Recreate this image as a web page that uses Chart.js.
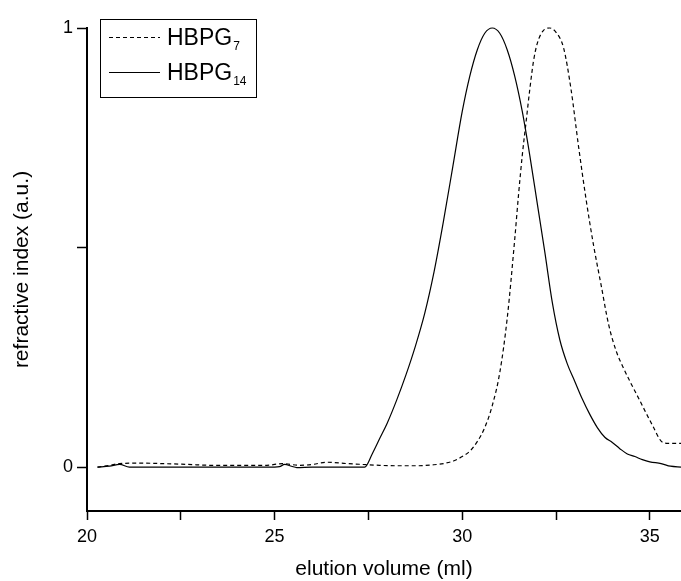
<!DOCTYPE html>
<html>
<head>
<meta charset="utf-8">
<script src="https://cdn.jsdelivr.net/npm/chart.js@4/dist/chart.umd.min.js"></script>
<style>
  html, body { margin: 0; padding: 0; background: #fff; }
  #wrap { width: 681px; height: 581px; }
</style>
</head>
<body>
<div id="wrap"><canvas id="c" width="681" height="581"></canvas></div>
<script>
// ---- data ----
const seriesNames = ['HBPG', 'HBPG'];
const seriesSubscripts = ['7', '14'];

// HBPG7 (dashed)
const hbpg7X = [20.28, 20.6, 20.87, 21.4, 22.0, 22.7, 23.35, 24.1, 24.79, 25.21, 25.67, 26.01, 26.39, 26.92, 27.35, 27.8, 28.33, 28.8, 29.2, 29.5, 29.8, 30.0, 30.2, 30.4, 30.6, 30.8, 31.0, 31.2, 31.4, 31.5, 31.6, 31.7, 31.8, 31.9, 32.0, 32.15, 32.33, 32.5, 32.7, 32.9, 33.1, 33.3, 33.5, 33.7, 33.9, 34.1, 34.3, 34.5, 34.7, 34.9, 35.1, 35.25, 35.35, 35.5, 35.83];
const hbpg7Y = [0.0, 0.004, 0.008, 0.009, 0.008, 0.006, 0.004, 0.004, 0.004, 0.008, 0.004, 0.006, 0.011, 0.008, 0.006, 0.004, 0.003, 0.003, 0.005, 0.008, 0.015, 0.024, 0.036, 0.058, 0.09, 0.14, 0.215, 0.34, 0.52, 0.62, 0.71, 0.785, 0.86, 0.925, 0.965, 0.993, 1.0, 0.99, 0.955, 0.86, 0.73, 0.61, 0.505, 0.415, 0.325, 0.265, 0.225, 0.19, 0.157, 0.123, 0.09, 0.065, 0.056, 0.054, 0.054];

// HBPG14 (solid)
const hbpg14X = [20.28, 20.6, 20.87, 21.13, 22.0, 23.0, 24.0, 25.0, 25.13, 25.27, 25.45, 25.59, 26.0, 26.47, 27.0, 27.4, 27.6, 27.8, 28.0, 28.25, 28.5, 28.75, 29.0, 29.25, 29.5, 29.75, 30.0, 30.2, 30.4, 30.6, 30.8, 31.0, 31.2, 31.4, 31.6, 31.8, 32.0, 32.2, 32.4, 32.6, 32.8, 33.0, 33.2, 33.4, 33.6, 33.8, 34.0, 34.2, 34.4, 34.6, 34.8, 35.0, 35.3, 35.55, 35.83];
const hbpg14Y = [0.0, 0.002, 0.006, 0.0, 0.0, 0.0, 0.0, 0.0, 0.001, 0.006, 0.002, -0.001, 0.0, 0.0, 0.0, 0.0, 0.03, 0.065, 0.1, 0.152, 0.21, 0.275, 0.35, 0.445, 0.56, 0.685, 0.81, 0.89, 0.95, 0.988, 1.0, 0.988, 0.95, 0.89, 0.81, 0.71, 0.6, 0.49, 0.375, 0.29, 0.235, 0.195, 0.155, 0.12, 0.09, 0.068, 0.056, 0.042, 0.03, 0.024, 0.017, 0.012, 0.008, 0.002, 0.0];

const xTickValues = [20, 22.5, 25, 27.5, 30, 32.5, 35];
const xTickLabels = ['20', '', '25', '', '30', '', '35'];
const yTickValues = [0, 0.5, 1];
const yTickLabels = ['0', '', '1'];

const xMin = 20, xMax = 35.83, yMin = -0.1, yMax = 1;

// ---- chart ----
const pts = (xs, ys) => xs.map((x, i) => ({ x: x, y: ys[i] }));

const legendPlugin = {
  id: 'subLegend',
  afterDraw(chart) {
    const ctx = chart.ctx;
    ctx.save();
    ctx.strokeStyle = '#000';
    ctx.lineWidth = 1;
    ctx.setLineDash([]);
    ctx.strokeRect(100.5, 19.5, 156, 78);
    const rowsY = [37, 72];
    chart.data.datasets.forEach((ds, i) => {
      const y = rowsY[i];
      ctx.beginPath();
      ctx.setLineDash(ds.borderDash || []);
      ctx.lineWidth = ds.borderWidth;
      ctx.strokeStyle = ds.borderColor;
      ctx.moveTo(109, y + 0.5);
      ctx.lineTo(160, y + 0.5);
      ctx.stroke();
      ctx.setLineDash([]);
      ctx.fillStyle = '#000';
      ctx.textBaseline = 'alphabetic';
      ctx.textAlign = 'left';
      ctx.font = '23px "Liberation Sans", Arial, sans-serif';
      const name = seriesNames[i];
      ctx.fillText(name, 167, y + 8);
      const w = ctx.measureText(name).width;
      ctx.font = '12px "Liberation Sans", Arial, sans-serif';
      ctx.fillText(seriesSubscripts[i], 167 + w + 1, y + 13);
    });
    ctx.restore();
  }
};

new Chart(document.getElementById('c'), {
  type: 'line',
  data: {
    datasets: [
      {
        label: seriesNames[0] + seriesSubscripts[0],
        data: pts(hbpg7X, hbpg7Y),
        borderColor: '#000',
        borderWidth: 1.2,
        borderDash: [4, 3],
        pointRadius: 0,
        cubicInterpolationMode: 'monotone',
        fill: false,
        clip: false
      },
      {
        label: seriesNames[1] + seriesSubscripts[1],
        data: pts(hbpg14X, hbpg14Y),
        borderColor: '#000',
        borderWidth: 1.2,
        pointRadius: 0,
        cubicInterpolationMode: 'monotone',
        fill: false,
        clip: false
      }
    ]
  },
  options: {
    responsive: false,
    animation: false,
    devicePixelRatio: 1,
    layout: { padding: { top: 28, right: 0, bottom: 0, left: 0 } },
    plugins: { legend: { display: false }, tooltip: { enabled: false } },
    scales: {
      x: {
        type: 'linear',
        min: xMin, max: xMax,
        bounds: 'data',
        afterBuildTicks: s => { s.ticks = xTickValues.map(v => ({ value: v })); },
        afterFit: s => { s.height = 70; },
        grid: { display: true, drawOnChartArea: false, drawTicks: true, tickLength: 9, tickColor: '#000', tickWidth: 1.5 },
        border: { display: true, color: '#000', width: 2 },
        ticks: {
          autoSkip: false, maxRotation: 0, padding: 6, color: '#000',
          font: { family: '"Liberation Sans", Arial, sans-serif', size: 18 },
          callback: (v) => { const i = xTickValues.indexOf(v); return i >= 0 ? xTickLabels[i] : ''; }
        },
        title: {
          display: true, text: 'elution volume (ml)', color: '#000',
          font: { family: '"Liberation Sans", Arial, sans-serif', size: 21, lineHeight: 1.0 },
          padding: { top: 0, bottom: 1 }
        }
      },
      y: {
        type: 'linear',
        min: yMin, max: yMax,
        bounds: 'data',
        afterBuildTicks: s => { s.ticks = yTickValues.map(v => ({ value: v })); },
        afterFit: s => { s.width = 87; },
        grid: { display: true, drawOnChartArea: false, drawTicks: true, tickLength: 10, tickColor: '#000', tickWidth: 1.5 },
        border: { display: true, color: '#000', width: 2 },
        ticks: {
          autoSkip: false, padding: 4, color: '#000',
          font: { family: '"Liberation Sans", Arial, sans-serif', size: 18 },
          callback: (v) => { const i = yTickValues.indexOf(v); return i >= 0 ? yTickLabels[i] : ''; }
        },
        title: {
          display: true, text: 'refractive index (a.u.)', color: '#000',
          font: { family: '"Liberation Sans", Arial, sans-serif', size: 21, lineHeight: 1.0 },
          padding: { top: 12, bottom: 0 }
        }
      }
    }
  },
  plugins: [legendPlugin]
});
</script>
</body>
</html>
